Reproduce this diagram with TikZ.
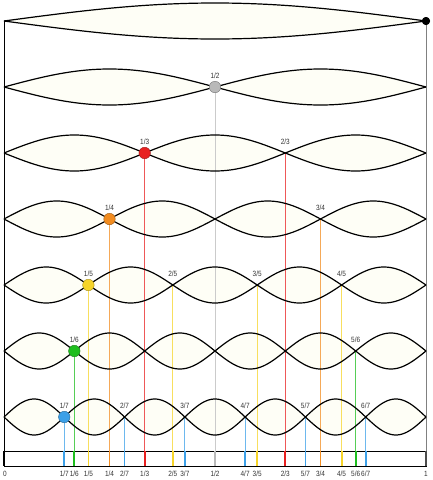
\documentclass[tikz,border=0pt]{standalone}
\usepackage{fontspec}
\setmainfont{Liberation Sans}
\newfontfamily\fracfont[FakeStretch=0.85]{Liberation Sans}
\definecolor{cream}{RGB}{254,254,246}
\definecolor{half}{RGB}{185,185,185}
\definecolor{third}{RGB}{232,32,32}
\definecolor{quarter}{RGB}{242,140,32}
\definecolor{fifth}{RGB}{246,212,40}
\definecolor{sixth}{RGB}{30,190,30}
\definecolor{seventh}{RGB}{60,160,232}

\begin{document}
\begin{tikzpicture}[x=1pt,y=-1pt,
    lobe/.style={
% The fill:
fill=cream,
},
    wave/.style={
% The border:
line width=1.2pt, draw=black,
},
    rung/.style={
% The border:
line width=1pt, draw=#1!75,
},
    tick/.style={
% The border:
line width=1.8pt, draw=#1,
},
    knot/.style={
% The shape:
circle,
% The size:
minimum size=11.5pt, inner sep=0pt,
% The border:
thin, draw=#1!65!black, fill=#1,
},
    bar/.style={
% The shape:
rectangle,
% The size:
minimum height=15pt,
minimum width=422pt,
% The border:
thin, draw,
},
    frac/.style={font=\fracfont\fontsize{7.6}{8}\selectfont, text=black!80, inner sep=0pt},
]
  \useasboundingbox (0,0) rectangle (432,480);

  % lobes of each mode
  \foreach \n in {1,...,7} {
    \pgfmathsetmacro\yr{21+66*(\n-1)}
    \fill[lobe] plot[domain=4:426,samples=241] (\x,{\yr-18*sin((\x-4)/422*180*\n)})
      -- plot[domain=426:4,samples=241] (\x,{\yr+18*sin((\x-4)/422*180*\n)}) -- cycle;
  }

  \node[bar]                            (bar) at (215, 458.5) {};
  \coordinate                           (end0) at (4, 21);
  \node[circle,fill=black,minimum size=8pt,inner sep=0pt] (end1) at (426, 21) {};
  \node[frac]                           (l0) at (5, 473.5) {0};
  \node[frac]                           (l1) at (426, 473.5) {1};
  \draw (end0) -- (end0 |- bar.north);
  \draw[gray] (end1) -- (end1 |- bar.north);

  % nodes p/n, their lines down to the bar
  \foreach \n/\col in {2/half,3/third,4/quarter,5/fifth,6/sixth,7/seventh} {
    \pgfmathsetmacro\yr{21+66*(\n-1)}
    \pgfmathtruncatemacro\m{\n-1}
    \foreach \p in {1,...,\m} {
      \pgfmathtruncatemacro\g{gcd(\p,\n)}
      \ifnum\g=1
        \coordinate (k-\p-\n) at ({4+422*\p/\n}, \yr);
        \draw[rung=\col] (k-\p-\n) -- (k-\p-\n |- bar.north);
        \draw[tick=\col] (k-\p-\n |- bar.north) -- (k-\p-\n |- bar.south);
        \node[frac] (t-\p-\n) at ({4+422*\p/\n}, 473.5) {\p/\n};
      \fi
    }
  }

  % outlines
  \foreach \n in {1,...,7} {
    \pgfmathsetmacro\yr{21+66*(\n-1)}
    \draw[wave] plot[domain=4:426,samples=241] (\x,{\yr-18*sin((\x-4)/422*180*\n)});
    \draw[wave] plot[domain=4:426,samples=241] (\x,{\yr+18*sin((\x-4)/422*180*\n)});
  }
  \draw[line width=2pt] (bar.north west) -- (bar.south west);
  \draw[line width=2pt,black!70] (bar.north east) -- (bar.south east);
  \node[circle,fill=black,minimum size=8pt,inner sep=0pt] at (end1) {};

  % knots and labels
  \foreach \n/\col in {2/half,3/third,4/quarter,5/fifth,6/sixth,7/seventh} {
    \pgfmathsetmacro\yr{21+66*(\n-1)}
    \pgfmathtruncatemacro\m{\n-1}
    \node[knot=\col] (d-\n) at (k-1-\n) {};
    \foreach \p in {1,...,\m} {
      \pgfmathtruncatemacro\g{gcd(\p,\n)}
      \ifnum\g=1
        \node[frac] (a-\p-\n) at ([yshift=11pt]k-\p-\n) {\p/\n};
      \fi
    }
  }

\end{tikzpicture}
\end{document}
